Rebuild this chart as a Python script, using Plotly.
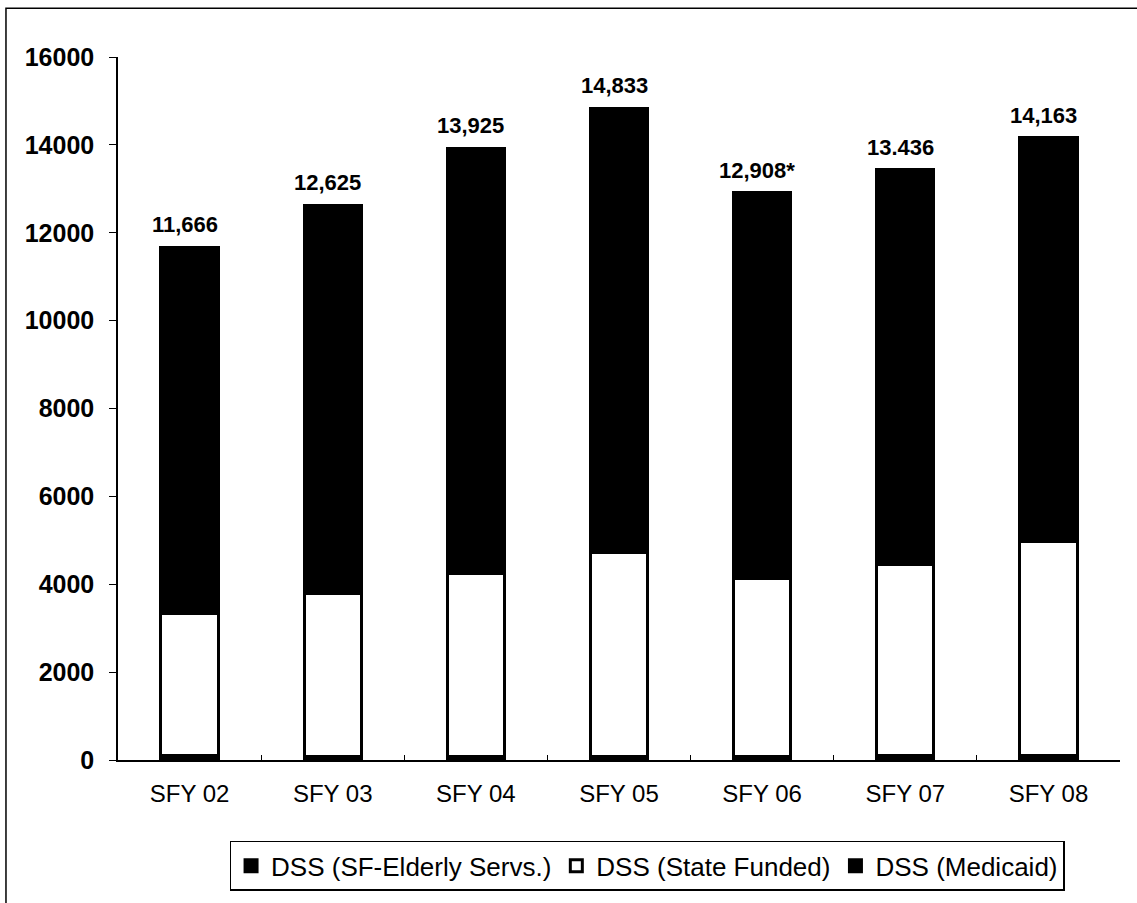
import plotly.graph_objects as go

# Fiscal years on the category axis
years = ["SFY 02", "SFY 03", "SFY 04", "SFY 05", "SFY 06", "SFY 07", "SFY 08"]

# Total clients served per year (printed above each bar)
totals = [11666, 12625, 13925, 14833, 12908, 13436, 14163]
total_labels = ["11,666", "12,625", "13,925", "14,833", "12,908*", "13.436", "14,163"]

# Segment values
elderly_servs = [95, 90, 80, 85, 90, 95, 100]
state_funded = [3245, 3710, 4170, 4635, 4050, 4355, 4880]
medicaid = [t - e - s for t, e, s in zip(totals, elderly_servs, state_funded)]

# y-axis tick values and labels
y_ticks = [0, 2000, 4000, 6000, 8000, 10000, 12000, 14000, 16000]
y_tick_text = [f"<b>{v}</b>" for v in y_ticks]

FONT = "Arial, Liberation Sans, sans-serif"
outline = dict(color="black", width=3)

fig = go.Figure()
fig.add_trace(go.Bar(x=years, y=elderly_servs, name="DSS (SF-Elderly Servs.)",
                     marker=dict(color="black", line=outline)))
fig.add_trace(go.Bar(x=years, y=state_funded, name="DSS (State Funded)",
                     marker=dict(color="white", line=outline)))
fig.add_trace(go.Bar(x=years, y=medicaid, name="DSS (Medicaid)",
                     marker=dict(color="black", line=outline)))

# Total labels above the stacks
for yr, tot, lab in zip(years, totals, total_labels):
    fig.add_annotation(x=yr, y=tot, text=f"<b>{lab}</b>", showarrow=False,
                       yanchor="bottom", yshift=8, xshift=-5,
                       font=dict(family=FONT, size=22, color="black"))

# Outer page frame
fig.add_shape(type="rect", xref="paper", yref="paper",
              x0=-0.1118, x1=1.03, y0=-0.22, y1=1.0695,
              line=dict(color="black", width=1.5), fillcolor="rgba(0,0,0,0)")

fig.update_layout(
    width=1137, height=903,
    margin=dict(l=118, r=17, t=57, b=141),
    paper_bgcolor="white", plot_bgcolor="white",
    barmode="stack", bargap=0.6,
    font=dict(family=FONT, color="black"),
    showlegend=True,
    legend=dict(orientation="h", x=0.528, xanchor="center", y=-0.115, yanchor="top",
                bgcolor="white", bordercolor="black", borderwidth=1.5,
                font=dict(family=FONT, size=26, color="black"),
                traceorder="normal", itemwidth=30),
)

fig.update_xaxes(showline=True, linecolor="black", linewidth=1.5,
                 ticks="inside", tickson="boundaries", ticklen=5, tickcolor="black",
                 showgrid=False, ticklabelstandoff=11,
                 tickfont=dict(family=FONT, size=24, color="black"))
fig.update_yaxes(range=[0, 16000], tickmode="array", tickvals=y_ticks, ticktext=y_tick_text,
                 showline=True, linecolor="black", linewidth=1.5,
                 ticks="outside", ticklen=7, tickcolor="black", showgrid=False, zeroline=False,
                 ticklabelstandoff=10,
                 tickfont=dict(family=FONT, size=25, color="black"))

fig.write_html("out.html")
